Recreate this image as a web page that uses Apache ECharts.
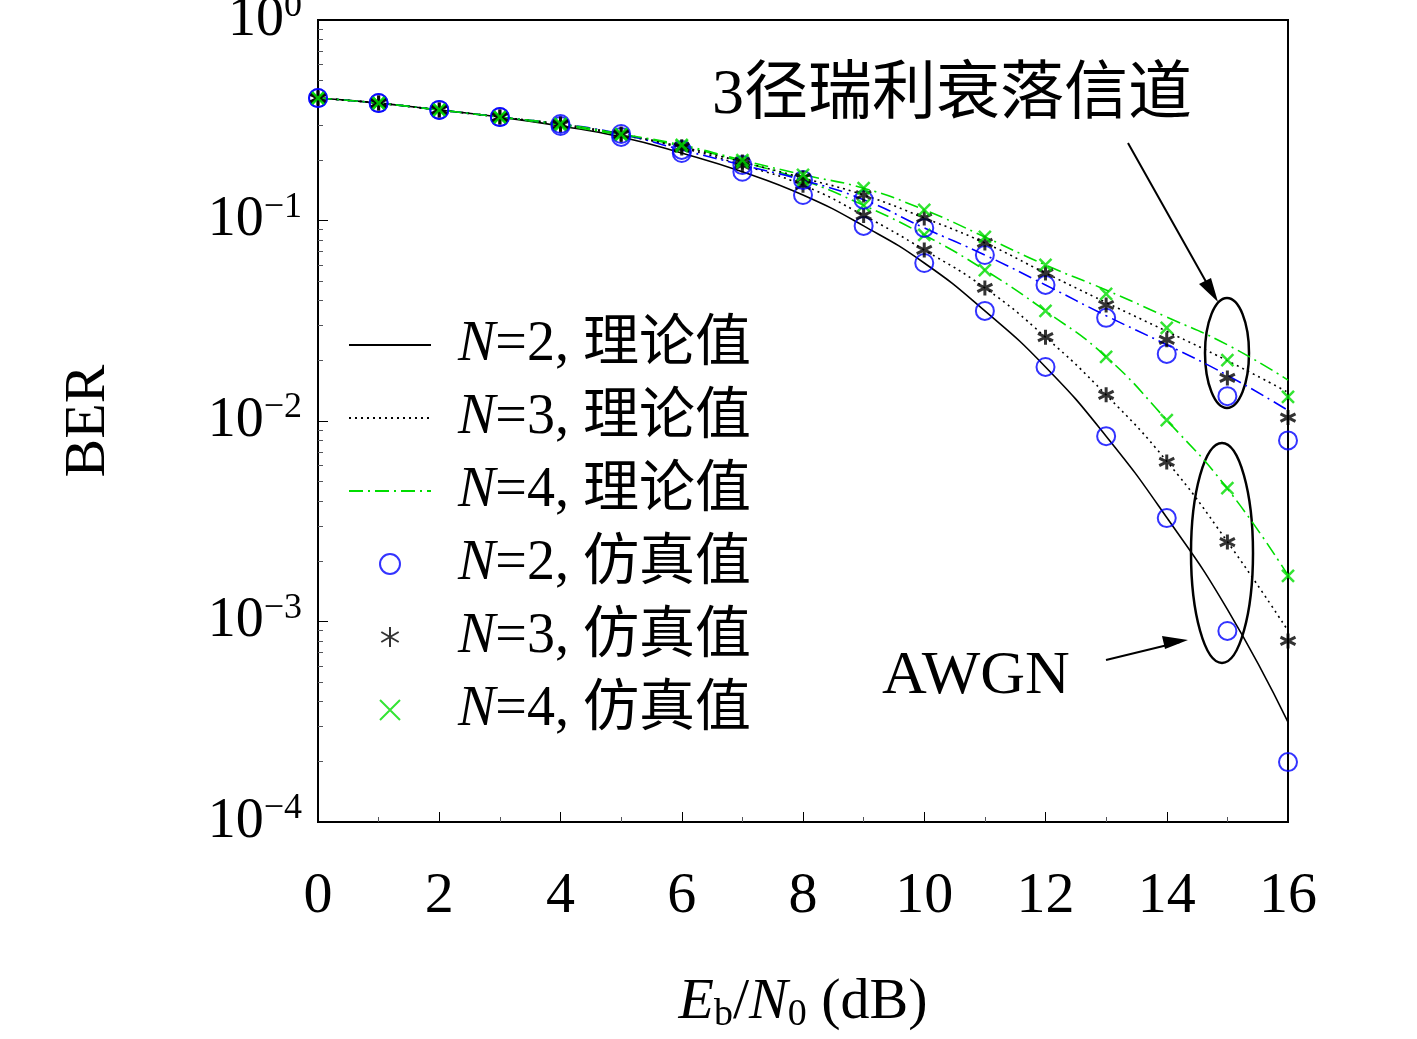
<!DOCTYPE html>
<html><head><meta charset="utf-8">
<script src="https://cdn.jsdelivr.net/npm/echarts@6/dist/echarts.min.js"></script>
<style>html,body{margin:0;background:#fff}#c{width:1417px;height:1039px}</style>
</head><body><div id="c"></div>
<script>
var snr = [0,1,2,3,4,5,6,7,8,9,10,11,12,13,14,15,16];
// AWGN
var awgnTh2 = [0.408,0.385,0.356,0.328,0.296,0.261,0.217,0.175,0.134,0.094,0.0614,0.0354,0.0186,0.0084,0.0033,0.00115,0.000315];
var awgnTh3 = [0.408,0.385,0.356,0.328,0.299,0.267,0.230,0.189,0.150,0.106,0.0713,0.0461,0.0262,0.0135,0.0063,0.0025,0.0009];
var awgnTh4 = [0.408,0.385,0.356,0.328,0.299,0.267,0.235,0.196,0.159,0.119,0.0847,0.0566,0.0354,0.0209,0.0101,0.0046,0.0017];
var awgnSim2 = [0.408,0.385,0.356,0.328,0.296,0.261,0.217,0.175,0.134,0.094,0.0614,0.0354,0.0186,0.0084,0.00328,0.000897,0.000199];
var awgnSim3 = [0.408,0.385,0.356,0.328,0.299,0.267,0.230,0.189,0.150,0.106,0.0713,0.0461,0.0262,0.0135,0.00625,0.00249,0.0008];
var awgnSim4 = [0.408,0.385,0.356,0.328,0.299,0.267,0.235,0.196,0.159,0.119,0.0847,0.0566,0.0354,0.0209,0.0101,0.00463,0.00169];
// 3-path Rayleigh
var rayTh2 = [0.408,0.385,0.356,0.328,0.303,0.270,0.225,0.189,0.159,0.127,0.0918,0.0673,0.0477,0.0335,0.024,0.0169,0.0113];
var rayTh3 = [0.408,0.385,0.356,0.328,0.303,0.270,0.233,0.196,0.163,0.134,0.103,0.0773,0.0547,0.0390,0.028,0.020,0.0139];
var rayTh4 = [0.408,0.385,0.356,0.328,0.303,0.270,0.238,0.200,0.169,0.145,0.113,0.0828,0.060,0.045,0.033,0.024,0.016];
var raySim2 = [0.408,0.385,0.356,0.328,0.303,0.270,0.225,0.189,0.159,0.127,0.0918,0.0673,0.0477,0.0327,0.0216,0.0133,0.0080];
var raySim3 = [0.408,0.385,0.356,0.328,0.303,0.270,0.233,0.196,0.163,0.134,0.103,0.0773,0.0547,0.0379,0.0254,0.0164,0.0104];
var raySim4 = [0.408,0.385,0.356,0.328,0.303,0.270,0.238,0.200,0.169,0.145,0.113,0.0828,0.060,0.043,0.0291,0.0201,0.0132];

var names = ['N=2, 理论值','N=3, 理论值','N=4, 理论值','N=2, 仿真值','N=3, 仿真值','N=4, 仿真值'];
var STAR = 'path://M0,-10L0,10M-8.7,-5L8.7,5M-8.7,5L8.7,-5';
var CROSS = 'path://M-10,-10L10,10M-10,10L10,-10';
function pairs(y){return snr.map(function(x,i){return [x,y[i]];});}
function line(name,y,color,type){
  return {name:name,type:'line',data:pairs(y),symbol:'none',smooth:true,
    lineStyle:{color:color,width:1.6,type:type},itemStyle:{color:color},z:2};
}
function sim(name,y,sym,color,size,bw){
  return {name:name,type:'scatter',data:pairs(y),symbol:sym,symbolSize:size,
    itemStyle:{color:sym==='circle'?'transparent':'none',borderColor:color,borderWidth:bw},z:3};
}
var serif = '"Liberation Serif","DejaVu Serif",serif';
var cjk = '"Liberation Serif","Noto Sans CJK SC",serif';
var legendData = names.map(function(n,i){
  return i<3 ? {name:n,itemStyle:{opacity:0}} : {name:n};
});
var chart = echarts.init(document.getElementById('c'));
chart.setOption({
  animation:false,
  grid:{left:318,top:20,width:970,height:802,outerBoundsMode:'none',containLabel:false,
    show:true,borderColor:'#000',borderWidth:2},
  xAxis:{type:'value',min:0,max:16,interval:2,
    axisLine:{show:false},axisTick:{inside:true,length:10,lineStyle:{color:'#000'}},
    minorTick:{show:true,splitNumber:2,length:5},
    splitLine:{show:false},
    axisLabel:{margin:46,color:'#000',fontSize:58,fontFamily:serif},
    name:'{i|E}{s|b}/{i|N}{s|0} (dB)',nameLocation:'middle',nameGap:150,
    nameTextStyle:{color:'#000',fontSize:58,fontFamily:serif,
      rich:{i:{fontStyle:'italic',fontSize:58,fontFamily:serif},s:{fontSize:38,fontFamily:serif,padding:[24,0,0,0]}}}},
  yAxis:{type:'log',min:1e-4,max:1,logBase:10,
    axisLine:{show:false},axisTick:{inside:true,length:10,lineStyle:{color:'#000'}},
    minorTick:{show:true,splitNumber:9,length:5},
    splitLine:{show:false},
    axisLabel:{margin:16,color:'#000',fontFamily:serif,
      formatter:function(v){var e=Math.round(Math.log10(v));return '{b|10}{s|'+(e===0?'0':'−'+(-e))+'}';},
      rich:{b:{fontSize:56,fontFamily:serif},s:{fontSize:36,fontFamily:serif,padding:[0,0,26,0]}}},
    name:'BER',nameLocation:'middle',nameGap:200,
    nameTextStyle:{color:'#000',fontSize:58,fontFamily:serif}},
  legend:{data:legendData,orient:'vertical',left:343,top:312,itemGap:17,itemWidth:82,itemHeight:20,
    formatter:function(n){return '{i|N}'+n.slice(1);},
    textStyle:{fontSize:56,color:'#000',fontFamily:cjk,padding:[0,0,0,22],
      rich:{i:{fontStyle:'italic',fontSize:56,fontFamily:serif}}}},
  series:[
    line(names[0],awgnTh2,'#000','solid'),
    line(names[1],awgnTh3,'#000',[2,4]),
    line(names[2],awgnTh4,'#00dd00',[14,5,2,5]),
    line(names[0],rayTh2,'#0000ff',[14,5,2,5]),
    line(names[1],rayTh3,'#000',[2,4]),
    line(names[2],rayTh4,'#00dd00',[14,5,2,5]),
    sim(names[3],awgnSim2,'circle','#0000ff',18,2),
    sim(names[4],awgnSim3,STAR,'#000',15,3),
    sim(names[5],awgnSim4,CROSS,'#00dd00',12,2.5),
    sim(names[3],raySim2,'circle','#0000ff',18,2),
    sim(names[4],raySim3,STAR,'#000',15,3),
    sim(names[5],raySim4,CROSS,'#00dd00',12,2.5)
  ],
  graphic:[
    {type:'text',left:712,top:64,style:{text:'3径瑞利衰落信道',fontSize:64,fill:'#000',fontFamily:cjk}},
    {type:'text',left:882,top:646,style:{text:'AWGN',fontSize:62,fill:'#000',fontFamily:serif}},
    {type:'ellipse',shape:{cx:1227,cy:353,rx:22,ry:55},style:{fill:'none',stroke:'#000',lineWidth:2.5}},
    {type:'ellipse',shape:{cx:1222,cy:553,rx:31,ry:110},style:{fill:'none',stroke:'#000',lineWidth:2.5}},
    {type:'line',shape:{x1:1128,y1:143,x2:1214,y2:296},style:{stroke:'#000',lineWidth:2}},
    {type:'polygon',shape:{points:[[1218,302],[1199,284],[1211,278]]},style:{fill:'#000'}},
    {type:'line',shape:{x1:1106,y1:660,x2:1180,y2:642},style:{stroke:'#000',lineWidth:2}},
    {type:'polygon',shape:{points:[[1188,640],[1162,636],[1165,649]]},style:{fill:'#000'}}
  ]
});
</script></body></html>
